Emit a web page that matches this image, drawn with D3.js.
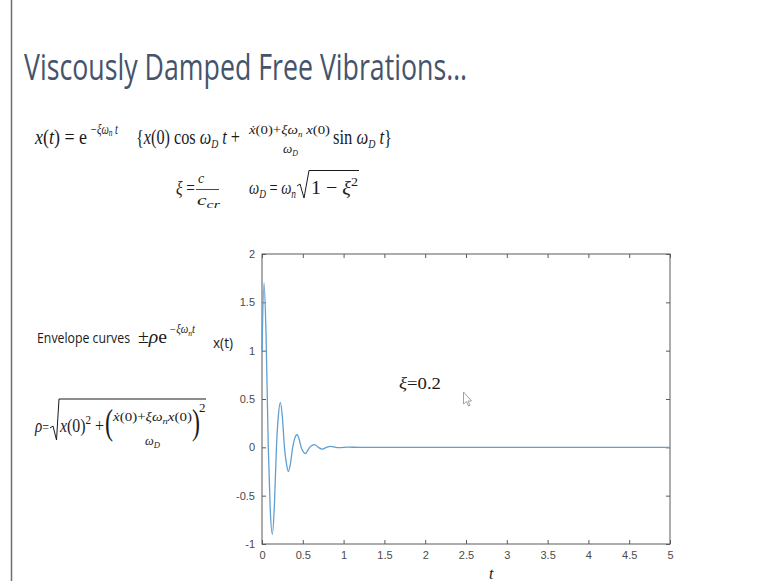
<!DOCTYPE html>
<html>
<head>
<meta charset="utf-8">
<script src="https://cdn.jsdelivr.net/npm/d3@7/dist/d3.min.js"></script>
<style>
  html, body { margin: 0; padding: 0; background: #fff; }
  svg { display: block; }
  .tick text { font-family: "Liberation Sans", Arial, sans-serif; font-size: 11px; fill: #4a4a4a; }
  .math { font-family: "Liberation Serif", "DejaVu Serif", serif; fill: #1a1a1a; }
</style>
</head>
<body>
<div id="app"></div>
<script>
// DATA
const tValues = [0, 0.025, 0.05, 0.077, 0.10, 0.127, 0.152, 0.177, 0.20, 0.225, 0.25, 0.275,
  0.30, 0.323, 0.35, 0.376, 0.40, 0.43, 0.455, 0.48, 0.505, 0.53, 0.555, 0.585,
  0.615, 0.646, 0.69, 0.74, 0.79, 0.84, 0.9, 0.95, 1.05, 1.2, 2, 3, 4, 5];
const xValues = [1.0, 1.70, 1.15, 0, -0.62, -0.90, -0.6, 0, 0.32, 0.465, 0.31, 0,
  -0.17, -0.25, -0.16, 0, 0.09, 0.13, 0.085, 0, -0.045, -0.065, -0.04, 0,
  0.02, 0.028, 0, -0.018, 0, 0.01, 0, -0.004, 0.002, 0, 0, 0, 0, 0];
const xTicks = [0, 0.5, 1, 1.5, 2, 2.5, 3, 3.5, 4, 4.5, 5];
const yTicks = [-1, -0.5, 0, 0.5, 1, 1.5, 2];
const dampingLabel = 'ξ=0.2';

const width = 767, height = 581;
const plot = { left: 262, right: 670, top: 254, bottom: 544 };
const ink = '#1a1a1a';

const svg = d3.select('#app').append('svg')
  .attr('width', width)
  .attr('height', height);

// slide edge line
svg.append('line')
  .attr('x1', 11.5).attr('x2', 11.5).attr('y1', 0).attr('y2', height)
  .attr('stroke', '#6e6e6e').attr('stroke-width', 1.5);

// title
svg.append('text')
  .attr('x', 24).attr('y', 80)
  .attr('textLength', 443).attr('lengthAdjust', 'spacingAndGlyphs')
  .style('font-family', '"Open Sans", "Noto Sans", sans-serif')
  .style('font-size', '36px')
  .style('fill', '#45546b')
  .text('Viscously Damped Free Vibrations…');

// math helper: one text per group, segments shift up/down inside
function mathText(gr) {
  const t = svg.append('text')
    .attr('class', 'math')
    .attr('x', gr.x).attr('y', gr.y)
    .style('font-size', gr.size + 'px');
  if (gr.font) t.style('font-family', gr.font);
  if (gr.len) t.attr('textLength', gr.len).attr('lengthAdjust', 'spacingAndGlyphs');
  let shift = 0;
  gr.segs.forEach(([str, o]) => {
    o = o || {};
    const target = (o.dy || 0) * gr.size;
    const sp = t.append('tspan').attr('dy', target - shift).text(str);
    shift = target;
    if (o.i) sp.style('font-style', 'italic');
    if (o.s) sp.style('font-size', (o.s * gr.size) + 'px');
  });
  return t;
}
const I = {i: 1};
const sub = (s) => ({i: 1, dy: 0.2, s: s || 0.6});

// equation line 1
[
  {x: 35, y: 144, size: 20, len: 52, segs: [['x', I], ['('], ['t', I], [') = e']]},
  {x: 90, y: 134, size: 20, len: 28, segs: [['−ξω', {i: 1, s: 0.7}], ['n', {i: 1, dy: 0.1, s: 0.5}], [' t', {i: 1, s: 0.7}]]},
  {x: 136, y: 144, size: 20, len: 104, segs: [['{'], ['x', I], ['(0) cos '], ['ω', I], ['D', sub()], [' t', {i: 1, dy: 0}], [' +']]},
  {x: 249, y: 134, size: 13, len: 81, segs: [['ẋ', I], ['(0)+'], ['ξω', I], ['n', sub()], [' x', {i: 1, dy: 0}], ['(0)']]},
  {x: 283, y: 153, size: 13, len: 15, segs: [['ω', I], ['D', sub()]]},
  {x: 333, y: 144, size: 20, len: 59, segs: [['sin '], ['ω', I], ['D', sub()], [' t', {i: 1, dy: 0}], ['}']]}
].forEach(mathText);

// equation line 2
[
  {x: 176, y: 194, size: 18, len: 19, segs: [['ξ', I], [' =']]},
  {x: 198, y: 183, size: 14, segs: [['c', I]]},
  {x: 197, y: 205, size: 14, len: 23, segs: [['c', I], ['cr', {i: 1, dy: 0.2, s: 0.75}]]},
  {x: 249, y: 194, size: 18, len: 47, segs: [['ω', I], ['D', sub(0.65)], [' = ', {dy: 0}], ['ω', I], ['n', sub(0.65)]]},
  {x: 311, y: 194, size: 19, len: 47, segs: [['1 − '], ['ξ', I], ['2', {dy: -0.4, s: 0.7}]]}
].forEach(mathText);
svg.append('line').attr('x1', 196).attr('x2', 219).attr('y1', 189.5).attr('y2', 189.5)
  .attr('stroke', ink).attr('stroke-width', 0.8);
svg.append('path')
  .attr('d', 'M297,186 L300,184 L304,198 L309,170.5 L359,170.5')
  .attr('fill', 'none').attr('stroke', ink).attr('stroke-width', 1);

// envelope curves text
[
  {x: 37, y: 343, size: 14.5, len: 93, font: '"Open Sans", "Noto Sans", sans-serif', segs: [['Envelope curves']]},
  {x: 138, y: 343, size: 18, len: 29, segs: [['±'], ['ρ', I], ['e']]},
  {x: 169, y: 333, size: 17, len: 26, segs: [['−ξω', {i: 1, s: 0.7}], ['n', {i: 1, dy: 0.15, s: 0.5}], ['t', {i: 1, dy: 0, s: 0.7}]]}
].forEach(mathText);

// rho formula
[
  {x: 35, y: 432, size: 18, len: 14, segs: [['ρ', I], ['=', {s: 0.8}]]},
  {x: 60, y: 432, size: 19, len: 44, segs: [['x', I], ['(0)'], ['2', {dy: -0.4, s: 0.7}], [' + ', {dy: 0}]]},
  {x: 105, y: 434, size: 36, len: 8, segs: [['(']]},
  {x: 113, y: 421, size: 13, len: 79, segs: [['ẋ', I], ['(0)+'], ['ξω', I], ['n', sub(0.7)], ['x', {i: 1, dy: 0}], ['(0)']]},
  {x: 145, y: 445, size: 13, len: 15, segs: [['ω', I], ['D', sub(0.7)]]},
  {x: 192, y: 434, size: 36, len: 8, segs: [[')']]},
  {x: 199, y: 412, size: 13, segs: [['2']]}
].forEach(mathText);
svg.append('path')
  .attr('d', 'M50,428 L53,426 L56.5,440 L59,399 L206,399')
  .attr('fill', 'none').attr('stroke', ink).attr('stroke-width', 1);

// plot scales
const x = d3.scaleLinear().domain([0, 5]).range([plot.left, plot.right]);
const y = d3.scaleLinear().domain([-1, 2]).range([plot.bottom, plot.top]);

const axisColor = '#5a5a5a';
const g = svg.append('g');

function styleAxis(sel) {
  sel.select('.domain').remove();
  sel.selectAll('.tick line').attr('stroke', axisColor);
}

g.append('g').attr('transform', `translate(0,${plot.bottom})`)
  .call(d3.axisBottom(x).tickValues(xTicks).tickFormat(d3.format('')).tickSizeInner(-4).tickSizeOuter(0).tickPadding(7))
  .call(styleAxis);
g.append('g').attr('transform', `translate(0,${plot.top})`)
  .call(d3.axisTop(x).tickValues(xTicks).tickFormat('').tickSizeInner(-4).tickSizeOuter(0))
  .call(styleAxis);
g.append('g').attr('transform', `translate(${plot.left},0)`)
  .call(d3.axisLeft(y).tickValues(yTicks).tickFormat(d3.format('')).tickSizeInner(-4).tickSizeOuter(0).tickPadding(7))
  .call(styleAxis);
g.append('g').attr('transform', `translate(${plot.right},0)`)
  .call(d3.axisRight(y).tickValues(yTicks).tickFormat('').tickSizeInner(-4).tickSizeOuter(0))
  .call(styleAxis);

g.selectAll('.tick text').text(function () { return this.textContent.replace('−', '-'); });

g.append('rect')
  .attr('x', plot.left).attr('y', plot.top)
  .attr('width', plot.right - plot.left).attr('height', plot.bottom - plot.top)
  .attr('fill', 'none').attr('stroke', axisColor).attr('stroke-width', 1);

// curve
const pts = tValues.map((t, i) => [t, xValues[i]]);
g.append('path')
  .datum(pts)
  .attr('fill', 'none')
  .attr('stroke', '#5f9fd2')
  .attr('stroke-width', 1.3)
  .attr('d', d3.line().x(d => x(d[0])).y(d => y(d[1])).curve(d3.curveMonotoneX));

// axis labels
svg.append('text')
  .attr('x', 223).attr('y', 348).attr('text-anchor', 'middle')
  .attr('textLength', 20).attr('lengthAdjust', 'spacingAndGlyphs')
  .style('font-family', '"Open Sans", "Noto Sans", sans-serif')
  .style('font-size', '15px').style('fill', ink)
  .text('x(t)');
mathText({x: 489, y: 579, size: 16, segs: [['t', I]]});

// annotation
mathText({x: 399, y: 389, size: 17, len: 42, segs: [[dampingLabel.slice(0, 1), I], [dampingLabel.slice(1)]]});

// mouse pointer
svg.append('path')
  .attr('d', 'M463.5,392 L463.5,404 L466.5,401.5 L468.5,406 L470,405.3 L468,401 L471.5,401 Z')
  .attr('fill', '#fff').attr('stroke', '#8a8a8a').attr('stroke-width', 0.8);
</script>
</body>
</html>
